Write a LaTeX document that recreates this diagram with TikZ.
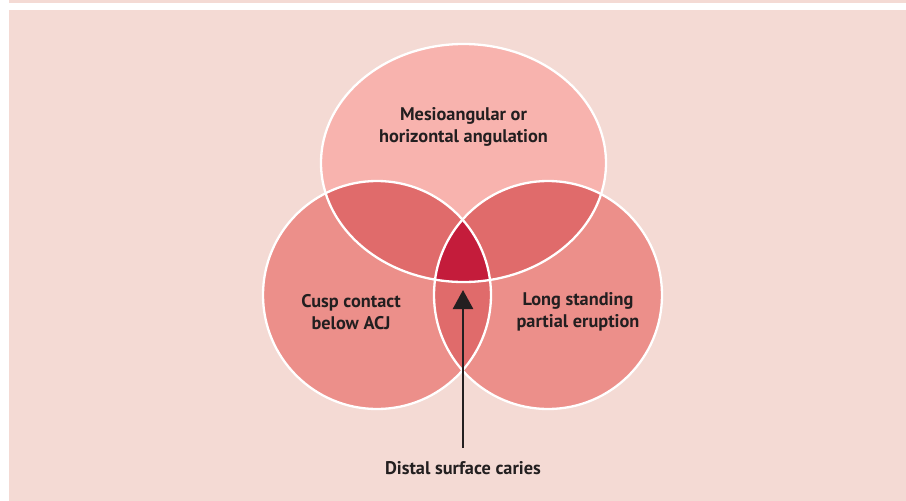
\documentclass[tikz,border=0pt]{standalone}
\usepackage{fontspec}
\setmainfont{PT Sans}
\usepackage{tikz}
\usetikzlibrary{arrows.meta,positioning}
\definecolor{panel}{HTML}{F4DAD4}
\definecolor{toparea}{HTML}{F8B3AE}
\definecolor{sidearea}{HTML}{EC8F8A}
\definecolor{pairarea}{HTML}{E06B6B}
\definecolor{triplearea}{HTML}{C41C3B}
\definecolor{inktext}{HTML}{231F20}
\tikzset{
  every picture/.style = {
    x = 1pt,
    y = -1pt,
  }
  ,
  rim/.style = {
    draw = white,
    line width = 2.3pt
  }
  , % text in the sets
  setlabel/.style = {
    align = center,
    text = inktext,
    font = \bfseries\fontsize{18.3}{22}\selectfont
  }
  ,
  pointer/.style = {
    draw = inktext,
    line width = 2.6pt,
    -{Triangle[width=20pt,length=19pt]}
  }
}
\newcommand{\topset}{(463.5,163) ellipse [x radius=142.5pt, y radius=119pt]}
\newcommand{\leftset}{(377,295) circle [radius=114pt]}
\newcommand{\rightset}{(548,295) circle [radius=114pt]}

\begin{document}
\begin{tikzpicture}
\useasboundingbox (0,0) rectangle (906,501);
% panel
\fill[panel] (9,0) rectangle (906,3);
\fill[panel] (9,10) rectangle (906,501);
% sets
\fill[toparea] \topset;
\fill[sidearea] \leftset;
\fill[sidearea] \rightset;
\begin{scope}
  \clip \leftset;
  \fill[pairarea] \topset;
  \fill[pairarea] \rightset;
\end{scope}
\begin{scope}
  \clip \rightset;
  \fill[pairarea] \topset;
\end{scope}
\begin{scope}
  \clip \leftset;
  \clip \rightset;
  \fill[triplearea] \topset;
\end{scope}
\path[rim] \topset;
\path[rim] \leftset;
\path[rim] \rightset;
% labels
\node[setlabel] (mesio) at (463.5,126.5) {Mesioangular or\\horizontal angulation};
\node[setlabel] (cusp) at (351,312) {Cusp contact\\below ACJ};
\node[setlabel] (erupt) at (578,312) {Long standing\\partial eruption};
\node[setlabel] (caries) at (463,468) {Distal surface caries};
\coordinate (tail) at (463,448);
\coordinate (tip) at (463,290);
\path[pointer] (tail) -- (tip);
\end{tikzpicture}
\end{document}
